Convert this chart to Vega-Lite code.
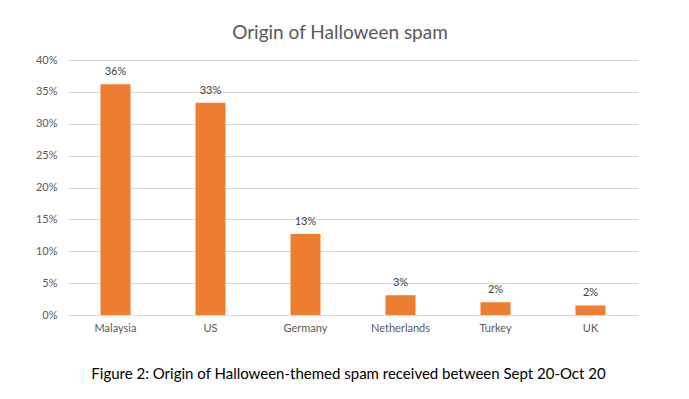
{
  "$schema": "https://vega.github.io/schema/vega-lite/v6.json",
  "width": 570,
  "height": 255,
  "autosize": "none",
  "padding": {"left": 68, "top": 60, "right": 51, "bottom": 84},
  "background": "white",
  "title": {
    "text": "Origin of Halloween spam",
    "font": "Lato",
    "fontSize": 19,
    "fontWeight": "normal",
    "color": "#595959",
    "anchor": "middle",
    "dx": -13,
    "offset": 11
  },
  "data": {
    "values": [
      {"country": "Malaysia", "share": 0.362},
      {"country": "US", "share": 0.333},
      {"country": "Germany", "share": 0.127},
      {"country": "Netherlands", "share": 0.031},
      {"country": "Turkey", "share": 0.020},
      {"country": "UK", "share": 0.015}
    ]
  },
  "encoding": {
    "x": {
      "field": "country",
      "type": "nominal",
      "sort": null,
      "scale": {"paddingInner": 0.684, "paddingOuter": 0.342},
      "axis": {
        "labelAngle": 0,
        "labelFont": "Lato",
        "labelFontSize": 11,
        "labelColor": "#595959",
        "labelPadding": 7,
        "ticks": false,
        "domainColor": "#d9d9d9",
        "title": "Figure 2: Origin of Halloween-themed spam received between Sept 20-Oct 20",
        "titleFont": "Lato",
        "titleFontSize": 15,
        "titleFontWeight": "normal",
        "titleColor": "#000000",
        "titlePadding": 33,
        "titleX": 280
      }
    },
    "y": {
      "field": "share",
      "type": "quantitative",
      "scale": {"domain": [0, 0.4]},
      "axis": {
        "format": ".0%",
        "values": [0, 0.05, 0.1, 0.15, 0.2, 0.25, 0.3, 0.35, 0.4],
        "labelFont": "Lato",
        "labelFontSize": 11,
        "labelColor": "#595959",
        "labelPadding": 11,
        "labelOverlap": false,
        "ticks": false,
        "domain": false,
        "gridColor": "#d9d9d9",
        "title": null
      }
    }
  },
  "layer": [
    {"mark": {"type": "bar", "color": "#ED7D31"}},
    {
      "mark": {"type": "text", "baseline": "bottom", "dy": -7, "font": "Lato", "fontSize": 11, "color": "#404040"},
      "encoding": {"text": {"field": "share", "format": ".0%"}}
    }
  ],
  "config": {"view": {"stroke": null}}
}
